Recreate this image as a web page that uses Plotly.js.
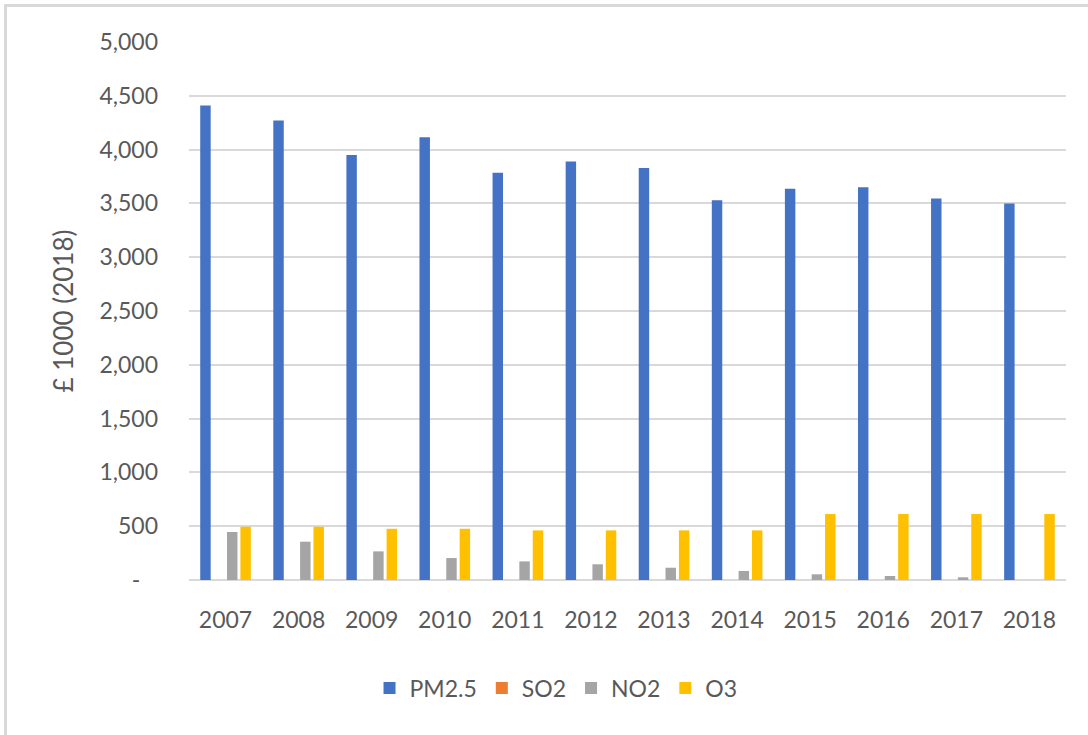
<!DOCTYPE html>
<html>
<head>
<meta charset="utf-8">
<script src="https://cdn.plot.ly/plotly-3.0.1.min.js"></script>
<style>
  html, body { margin: 0; padding: 0; background: #ffffff; }
  #wrap { position: relative; width: 1088px; height: 735px; overflow: hidden; }
  #chart { position: absolute; left: 0; top: 0; width: 1088px; height: 735px; }
  #frame { position: absolute; left: 4px; top: 4px; width: 1200px; height: 800px;
           border-left: 3px solid #d9d9d9; border-top: 3px solid #d9d9d9; pointer-events: none; }
</style>
</head>
<body>
<div id="wrap">
  <div id="chart"></div>
  <div id="frame"></div>
</div>
<script>
// ---- data ----
const years = ["2007","2008","2009","2010","2011","2012","2013","2014","2015","2016","2017","2018"];
const pm25 = [4410, 4270, 3950, 4115, 3785, 3890, 3830, 3530, 3635, 3650, 3545, 3500];
const so2  = [0, 0, 0, 0, 0, 0, 0, 0, 0, 0, 0, 0];
const no2  = [446, 356, 266, 204, 173, 146, 114, 84, 53, 37, 25, 0];
const o3   = [495, 495, 476, 476, 461, 461, 461, 461, 613, 613, 613, 613];

const yTickVals = [0, 500, 1000, 1500, 2000, 2500, 3000, 3500, 4000, 4500, 5000];
const yTickText = ["-\u00a0\u00a0\u00a0", "500", "1,000", "1,500", "2,000", "2,500", "3,000", "3,500", "4,000", "4,500", "5,000"];

const seriesNames = ["PM2.5", "SO2", "NO2", "O3"];
const seriesColors = ["#4472C4", "#ED7D31", "#A5A5A5", "#FFC000"];
const seriesValues = [pm25, so2, no2, o3];

const font = "Lato, 'Open Sans', sans-serif";
const textColor = "#595959";

const traces = seriesNames.map((name, i) => ({
  type: "bar",
  name: name,
  x: years,
  y: seriesValues[i],
  marker: { color: seriesColors[i], line: { width: 0 } },
  hoverinfo: "x+y+name"
}));

const layout = {
  width: 1088,
  height: 735,
  paper_bgcolor: "#ffffff",
  plot_bgcolor: "#ffffff",
  margin: { l: 189, r: 22, t: 42, b: 155 },
  barmode: "group",
  bargap: 0.267,
  bargroupgap: 0.22,
  font: { family: font, size: 23, color: textColor },
  showlegend: true,
  legend: {
    orientation: "h",
    x: 0.4185, xanchor: "center",
    y: -0.2007, yanchor: "middle",
    font: { family: font, size: 23, color: textColor },
    traceorder: "normal",
    bgcolor: "rgba(0,0,0,0)"
  },
  xaxis: {
    type: "category",
    showgrid: false,
    showline: false,
    zeroline: false,
    ticks: "",
    ticklabelstandoff: 24,
    tickfont: { family: font, size: 23, color: textColor }
  },
  yaxis: {
    range: [0, 5000],
    tickmode: "array",
    tickvals: yTickVals,
    ticktext: yTickText,
    showgrid: true,
    gridcolor: "#d9d9d9",
    gridwidth: 2,
    zeroline: true,
    zerolinecolor: "#d9d9d9",
    zerolinewidth: 2,
    showline: false,
    ticks: "",
    ticklabelstandoff: 30,
    tickfont: { family: font, size: 23, color: textColor },
    title: {
      text: "£ 1000 (2018)",
      font: { family: font, size: 26, color: textColor },
      standoff: 18
    }
  }
};

Plotly.newPlot("chart", traces, layout, { displayModeBar: false, staticPlot: true });
</script>
</body>
</html>
